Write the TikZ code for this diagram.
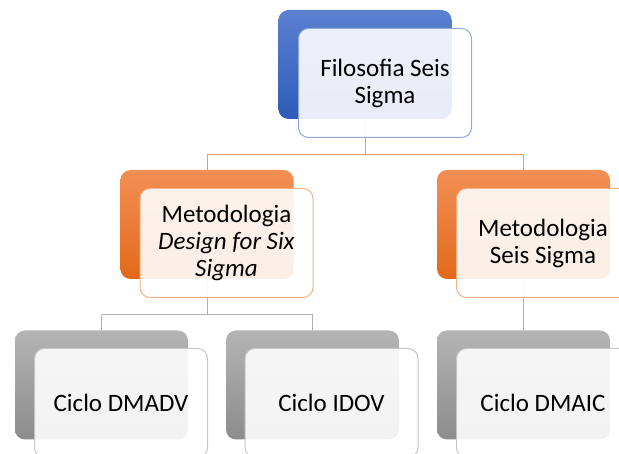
\documentclass[tikz,border=0pt]{standalone}
\usepackage{fontspec}
\setmainfont{Carlito}
\usepackage{tikz}

\definecolor{bluetop}{HTML}{5B80D0}
\definecolor{bluebot}{HTML}{2E5BB8}
\definecolor{blueline}{HTML}{8EA9DB}
\definecolor{orangetop}{HTML}{F38F55}
\definecolor{orangebot}{HTML}{E2691A}
\definecolor{orangeline}{HTML}{F4B183}
\definecolor{graytop}{HTML}{B4B4B4}
\definecolor{graybot}{HTML}{8C8C8C}
\definecolor{grayline}{HTML}{C6C6C6}
\definecolor{linkorange}{HTML}{F29B5E}
\definecolor{linkgray}{HTML}{B0B0B0}

\tikzset{
  box/.style={rectangle, rounded corners=10pt, minimum width=173pt, minimum height=109pt, inner sep=0pt},
  backblue/.style={box, top color=bluetop, bottom color=bluebot},
  backorange/.style={box, top color=orangetop, bottom color=orangebot},
  backgray/.style={box, top color=graytop, bottom color=graybot},
  front/.style={box, line width=1pt, fill=white, fill opacity=0.89, text opacity=1, align=center, font=\fontsize{25}{27}\selectfont},
  frontblue/.style={front, draw=blueline},
  frontorange/.style={front, draw=orangeline},
  frontgray/.style={front, draw=grayline},
  link/.style={line width=1pt}
}

\begin{document}
\begin{tikzpicture}[x=1pt,y=-1pt]
\useasboundingbox (0,0) rectangle (619,454);
\clip (0,0) rectangle (619,454);
%back
\node[backblue] (fsb) at (365,64.5) {};
\node[backorange] (dfb) at (207,224.5) {};
\node[backorange] (ssb) at (523.5,224.5) {};
\node[backgray] (dvb) at (101.5,385) {};
\node[backgray] (idb) at (312.5,385) {};
\node[backgray] (dcb) at (523.5,385) {};
%edge
\coordinate (t1) at (365,155); \coordinate (t2) at (207,155); \coordinate (t3) at (523.5,155);
\coordinate (m1) at (207,315); \coordinate (m2) at (101.5,315); \coordinate (m3) at (312.5,315);
\draw[link, linkorange] (fsb.south)--(t1); \draw[link, linkorange] (t2)--(t3);
\draw[link, linkorange] (t2)--(dfb.north); \draw[link, linkorange] (t3)--(ssb.north);
\draw[link, linkgray] (dfb.south)--(m1); \draw[link, linkgray] (m2)--(m3);
\draw[link, linkgray] (m2)--(dvb.north); \draw[link, linkgray] (m3)--(idb.north);
\draw[link, linkgray] (ssb.south)--(dcb.north);
%front
\node[frontblue] (fs) at (385,83) {Filosofia Seis\\Sigma};
\node[frontorange] (df) at (226.5,243) {Metodologia\\\textit{Design for Six}\\\textit{Sigma}};
\node[frontorange] (ss) at (543,243) {Metodologia\\Seis Sigma};
\node[frontgray] (dv) at (121,403) {Ciclo DMADV};
\node[frontgray] (id) at (331.5,403) {Ciclo IDOV};
\node[frontgray] (dc) at (543,403) {Ciclo DMAIC};
\end{tikzpicture}
\end{document}
